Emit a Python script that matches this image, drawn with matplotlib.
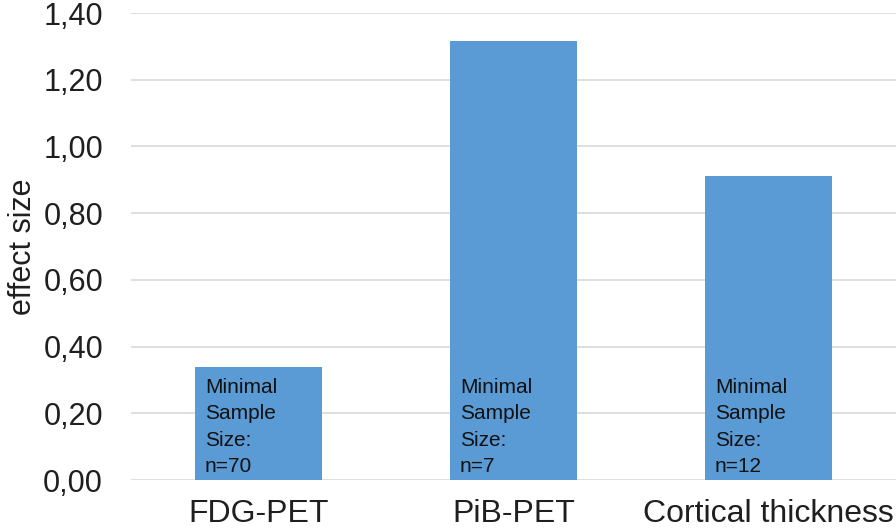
import matplotlib
matplotlib.use("Agg")
import matplotlib.pyplot as plt
from matplotlib.ticker import FuncFormatter

plt.rcParams['font.family'] = ['Liberation Sans', 'DejaVu Sans']

# data
categories = ["FDG-PET", "PiB-PET", "Cortical thickness"]
effect_sizes = [0.34, 1.315, 0.91]
sample_sizes = [70, 7, 12]
y_ticks = [0.0, 0.2, 0.4, 0.6, 0.8, 1.0, 1.2, 1.4]

bar_color = "#5b9bd5"
grid_color = "#d9d9d9"

fig = plt.figure(figsize=(8.96, 5.31), dpi=100)
ax = fig.add_axes([0.146, 0.096, 0.854, 0.8795])

x = range(len(categories))
bars = ax.bar(x, effect_sizes, width=0.5, color=bar_color, zorder=2)

# annotation inside each bar, bottom-left
for b, n in zip(bars, sample_sizes):
    ax.text(b.get_x() + 0.04, 0.012, "Minimal\nSample\nSize:\nn=%d" % n,
            ha="left", va="bottom", fontsize=15, linespacing=1.5,
            color="#111111", zorder=3)

ax.set_xlim(-0.5, len(categories) - 0.5)
ax.set_ylim(0, 1.4)
ax.set_yticks(y_ticks)
ax.yaxis.set_major_formatter(FuncFormatter(lambda v, p: ("%.2f" % v).replace(".", ",")))
ax.set_xticks(list(x))
ax.set_xticklabels(categories)

ax.grid(axis="y", color=grid_color, linewidth=1.2, zorder=0)
for s in ax.spines.values():
    s.set_visible(False)
ax.tick_params(axis="y", length=0, pad=20, labelsize=22, labelcolor="#1f1f1f")
ax.tick_params(axis="x", length=0, pad=14, labelsize=23, labelcolor="#1f1f1f")
ax.set_ylabel("effect size", fontsize=22, color="#1f1f1f", labelpad=4)

fig.savefig("out.png", dpi=100)
